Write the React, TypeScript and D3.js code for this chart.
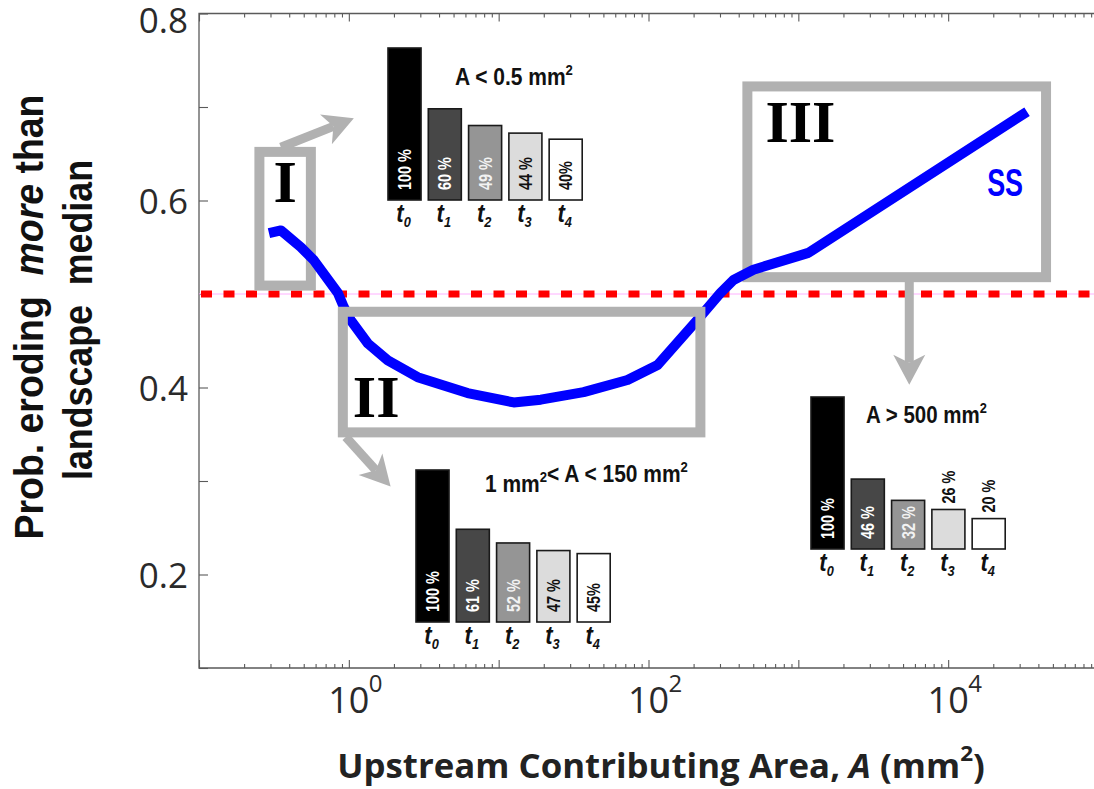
import React, { useRef, useEffect } from "react";
import * as d3 from "d3";

// blue curve: upstream area (mm^2) vs probability of eroding more than landscape median
const areas = [0.293, 0.352, 0.479, 0.585, 0.845, 0.926, 1.03, 1.34, 1.82, 2.88, 6.2, 12.6, 19.1, 36.9, 72.4, 115, 222, 302, 369, 501, 1166, 33600];
const probs = [0.565, 0.568, 0.55, 0.536, 0.501, 0.486, 0.472, 0.447, 0.429, 0.411, 0.394, 0.384, 0.387, 0.395, 0.408, 0.424, 0.476, 0.501, 0.515, 0.526, 0.544, 0.695];
const medianProb = 0.5;

const yTicks = [0.1, 0.2, 0.3, 0.4, 0.5, 0.6, 0.7, 0.8];
const yLabeled = [0.2, 0.4, 0.6, 0.8];
const xDecades = [-1, 0, 1, 2, 3, 4, 5];
const xLabeled = [0, 2, 4];

// inset bar charts
const timeSteps = ["0", "1", "2", "3", "4"];
const pctSmall = [100, 60, 49, 44, 40];
const pctMid = [100, 61, 52, 47, 45];
const pctLarge = [100, 46, 32, 26, 20];
const lblSmall = ["100 %", "60 %", "49 %", "44 %", "40%"];
const lblMid = ["100 %", "61 %", "52 %", "47 %", "45%"];
const lblLarge = ["100 %", "46 %", "32 %", "26 %", "20 %"];
const barFills = ["#000000", "#474747", "#959595", "#dcdcdc", "#ffffff"];
const barText = ["#ffffff", "#ffffff", "#f2f2f2", "#111111", "#111111"];

// highlighted regions [A0, A1, p0, p1]
const regionNames = ["I", "II", "III"];
const regionBoxes = [
  [0.253, 0.558, 0.509, 0.652],
  [0.912, 222, 0.352, 0.481],
  [457, 45000, 0.518, 0.722],
];
// arrows [Afrom, pfrom, Ato, pto]
const regionArrows = [
  [0.352, 0.657, 1.08, 0.688],
  [0.955, 0.347, 1.9, 0.294],
  [5500, 0.513, 5500, 0.403],
];

const W = 1094;
const H = 789;
const GRAY = "#b1b1b1";
const BOLD = "'Liberation Sans', Arial, sans-serif";
const SANS = "'Open Sans', 'Noto Sans', sans-serif";

const App = () => {
  const ref = useRef<SVGSVGElement>(null);

  useEffect(() => {
    const svg = d3.select(ref.current);
    svg.selectAll("*").remove();

    // squeeze a text horizontally (in its own frame) so it spans `target` px
    const place = (t: any, px: number, py: number, rot: number, target: number | null, sx = 1) => {
      let s = sx;
      if (target) s = target / (t.node() as SVGTextElement).getComputedTextLength();
      t.attr("transform", `translate(${px},${py}) rotate(${rot}) scale(${s},1)`);
    };

    const left = 199, right = 1098, top = 13.5, bottom = 668;
    const x = d3.scaleLog().domain([0.1, 1e5]).range([left, right]);
    const y = d3.scaleLinear().domain([0.1, 0.8]).range([bottom, top]);

    svg.append("rect").attr("width", W).attr("height", H).attr("fill", "#fff");

    // minor x ticks
    const minor: number[] = [];
    xDecades.slice(0, -1).forEach((d) => {
      for (let k = 2; k < 10; k++) minor.push(k * Math.pow(10, d));
    });
    const majors = xDecades.map((d) => Math.pow(10, d));

    const axes = svg.append("g").attr("color", "#5a5a5a");
    axes.append("g").attr("transform", `translate(0,${bottom})`)
      .call(d3.axisBottom(x).tickValues(minor).tickSize(-4).tickFormat(() => ""));
    axes.append("g").attr("transform", `translate(0,${bottom})`)
      .call(d3.axisBottom(x).tickValues(majors).tickSize(-8).tickFormat(() => ""));
    axes.append("g").attr("transform", `translate(0,${top})`)
      .call(d3.axisTop(x).tickValues(minor).tickSize(-4).tickFormat(() => ""));
    axes.append("g").attr("transform", `translate(0,${top})`)
      .call(d3.axisTop(x).tickValues(majors).tickSize(-8).tickFormat(() => ""));
    axes.append("g").attr("transform", `translate(${left},0)`)
      .call(d3.axisLeft(y).tickValues(yTicks).tickSize(-9).tickPadding(11)
        .tickFormat((d) => (yLabeled.includes(Math.round(+d * 10) / 10) ? d3.format(".1f")(+d) : "")));
    axes.selectAll(".domain").remove();
    axes.selectAll("line").attr("stroke-width", 1.1);
    axes.selectAll("text").attr("font-family", SANS).attr("font-size", 35).attr("fill", "#2a2a2a")
      .attr("dy", (d: any) => (+d > 0.75 ? "0.55em" : "0.36em"));

    axes.append("path")
      .attr("d", `M${right},${top}H${left}V${bottom}H${right}`)
      .attr("fill", "none").attr("stroke", "#5a5a5a").attr("stroke-width", 1.3);

    // x tick labels 10^n
    xLabeled.forEach((d) => {
      const px = x(Math.pow(10, d));
      svg.append("text").attr("font-family", SANS).attr("fill", "#2a2a2a").attr("font-size", 36)
        .attr("x", px).attr("y", 713).attr("text-anchor", "middle").text("10");
      svg.append("text").attr("font-family", SANS).attr("fill", "#2a2a2a").attr("font-size", 24)
        .attr("x", px + 20).attr("y", 692).text(String(d));
    });

    // axis titles
    const xt = svg.append("text").attr("text-anchor", "middle")
      .attr("font-family", SANS).attr("font-weight", "bold").attr("font-size", 34).attr("fill", "#222")
      .style("white-space", "pre");
    xt.append("tspan").text("Upstream Contributing Area, ");
    xt.append("tspan").attr("font-style", "italic").text("A");
    xt.append("tspan").text(" (mm");
    xt.append("tspan").attr("font-size", 22).attr("dy", -17).text("2");
    xt.append("tspan").attr("dy", 17).text(")");
    place(xt, 661, 778, 0, 648);

    const yt1 = svg.append("text").attr("text-anchor", "middle")
      .attr("font-family", BOLD).attr("font-weight", "bold").attr("font-size", 41).attr("fill", "#111")
      .style("white-space", "pre");
    yt1.append("tspan").text("Prob. eroding  ");
    yt1.append("tspan").attr("font-style", "italic").text("more");
    yt1.append("tspan").text(" than");
    place(yt1, 43, 317, -90, 445);
    const yt2 = svg.append("text").attr("text-anchor", "middle")
      .attr("font-family", BOLD).attr("font-weight", "bold").attr("font-size", 41).attr("fill", "#111")
      .style("white-space", "pre").text("landscape  median");
    place(yt2, 92, 320, -90, 320);

    // median reference
    svg.append("line").attr("x1", left).attr("x2", W).attr("y1", y(medianProb)).attr("y2", y(medianProb))
      .attr("stroke", "#ffb0ff").attr("stroke-width", 1);
    svg.append("line").attr("x1", left + 2).attr("x2", W).attr("y1", y(medianProb)).attr("y2", y(medianProb))
      .attr("stroke", "#ff0000").attr("stroke-width", 7).attr("stroke-dasharray", "11 11.5");

    const drawBox = (i: number) => {
      const [a0, a1, p0, p1] = regionBoxes[i];
      svg.append("rect").attr("x", x(a0)).attr("y", y(p1))
        .attr("width", x(a1) - x(a0)).attr("height", y(p0) - y(p1))
        .attr("fill", "none").attr("stroke", GRAY).attr("stroke-width", 10);
    };
    drawBox(0);
    drawBox(2);

    // curve
    const pts = areas.map((a, i) => [a, probs[i]] as [number, number]);
    svg.append("path").datum(pts)
      .attr("d", d3.line<[number, number]>().x((d) => x(d[0])).y((d) => y(d[1])))
      .attr("fill", "none").attr("stroke", "#0000ff").attr("stroke-width", 10)
      .attr("stroke-linejoin", "round");

    drawBox(1);

    const ss = svg.append("text").attr("font-family", BOLD).attr("font-weight", "bold")
      .attr("font-size", 38).attr("fill", "#0000ff").text("SS");
    place(ss, x(18200), y(0.605), 0, 36);

    // region numerals
    const bx = regionBoxes.map(([a0, a1, p0, p1]) => ({ l: x(a0), r: x(a1), t: y(p1), b: y(p0) }));
    const roman = (s: string, px: number, py: number, anchor: string) =>
      svg.append("text").attr("x", px).attr("y", py).attr("text-anchor", anchor)
        .attr("font-family", "'Liberation Serif', 'DejaVu Serif', serif").attr("font-weight", "bold")
        .attr("font-size", 60).attr("fill", "#000").text(s);
    roman(regionNames[0], (bx[0].l + bx[0].r) / 2, bx[0].t + 50, "middle");
    roman(regionNames[1], bx[1].l + 10, bx[1].b - 15, "start");
    roman(regionNames[2], bx[2].l + 18, bx[2].t + 56, "start");

    // arrows
    regionArrows.forEach(([a0, p0, a1, p1]) => {
      const x1 = x(a0), y1 = y(p0), x2 = x(a1), y2 = y(p1);
      const len = Math.hypot(x2 - x1, y2 - y1);
      const ux = (x2 - x1) / len, uy = (y2 - y1) / len;
      const nx = -uy, ny = ux;
      const hl = 30, hw = 16, notch = 8;
      const bxp = x2 - ux * hl, byp = y2 - uy * hl;
      const mx = x2 - ux * (hl - notch), my = y2 - uy * (hl - notch);
      svg.append("line").attr("x1", x1).attr("y1", y1).attr("x2", mx).attr("y2", my)
        .attr("stroke", GRAY).attr("stroke-width", 9);
      svg.append("path")
        .attr("d", `M${x2},${y2}L${bxp + nx * hw},${byp + ny * hw}L${mx},${my}L${bxp - nx * hw},${byp - ny * hw}Z`)
        .attr("fill", GRAY);
    });

    // inset bar charts
    const insets = [
      { pct: pctSmall, lbl: lblSmall, left: 388, base: 200, tx: 455, ty: 85, tw: 118, title: [["A < 0.5 mm", "2"]], above: [] as number[] },
      { pct: pctMid, lbl: lblMid, left: 416, base: 622, tx: 485, ty: 492, tw: 203, title: [["1 mm", "2"], ["< A < 150 mm", "2"]], above: [] as number[] },
      { pct: pctLarge, lbl: lblLarge, left: 811, base: 549, tx: 866, ty: 423, tw: 121, title: [["A > 500 mm", "2"]], above: [3, 4] },
    ];
    const hScale = d3.scaleLinear().domain([0, 100]).range([0, 152]);

    insets.forEach((g) => {
      const band = d3.scaleBand().domain(timeSteps).range([g.left, g.left + 194.2]).paddingInner(0.18).paddingOuter(0);
      const bw = band.bandwidth();
      const grp = svg.append("g");
      grp.selectAll("rect").data(g.pct).enter().append("rect")
        .attr("x", (_, i) => band(timeSteps[i])!)
        .attr("y", (d) => g.base - hScale(d))
        .attr("width", bw).attr("height", (d) => hScale(d))
        .attr("fill", (_, i) => barFills[i]).attr("stroke", "#1a1a1a").attr("stroke-width", 1.6);

      grp.selectAll("text.pct").data(g.pct).enter().append("text").attr("class", "pct")
        .attr("transform", (d, i) => {
          const cx = band(timeSteps[i])! + bw / 2;
          const cy = g.above.includes(i) ? g.base - hScale(d) - 6 : g.base - 10;
          return `translate(${cx},${cy}) rotate(-90) scale(0.8,1)`;
        })
        .attr("dominant-baseline", "central")
        .attr("font-family", BOLD).attr("font-weight", "bold").attr("font-size", 18)
        .attr("fill", (_, i) => (g.above.includes(i) ? "#111" : barText[i]))
        .style("white-space", "pre")
        .text((_, i) => g.lbl[i]);

      timeSteps.forEach((t) => {
        const tl = grp.append("text").attr("text-anchor", "middle").attr("font-family", BOLD)
          .attr("font-weight", "bold").attr("font-style", "italic").attr("fill", "#111");
        tl.append("tspan").attr("font-size", 26).text("t");
        tl.append("tspan").attr("font-size", 15).attr("dy", 5).text(t);
        place(tl, band(t)! + bw / 2 - 1, g.base + 22, 0, null, 0.85);
      });

      const title = grp.append("text")
        .attr("font-family", BOLD).attr("font-weight", "bold").attr("font-size", 24).attr("fill", "#111")
        .style("white-space", "pre");
      g.title.forEach(([s, sup]) => {
        title.append("tspan").text(s);
        title.append("tspan").attr("font-size", 15).attr("dy", -10).text(sup);
        title.append("tspan").attr("dy", 10).text("");
      });
      place(title, g.tx, g.ty, 0, g.tw);
    });
  }, []);

  return <svg ref={ref} width={W} height={H} style={{ position: "absolute", left: 0, top: 0 }} />;
};

export default App;
